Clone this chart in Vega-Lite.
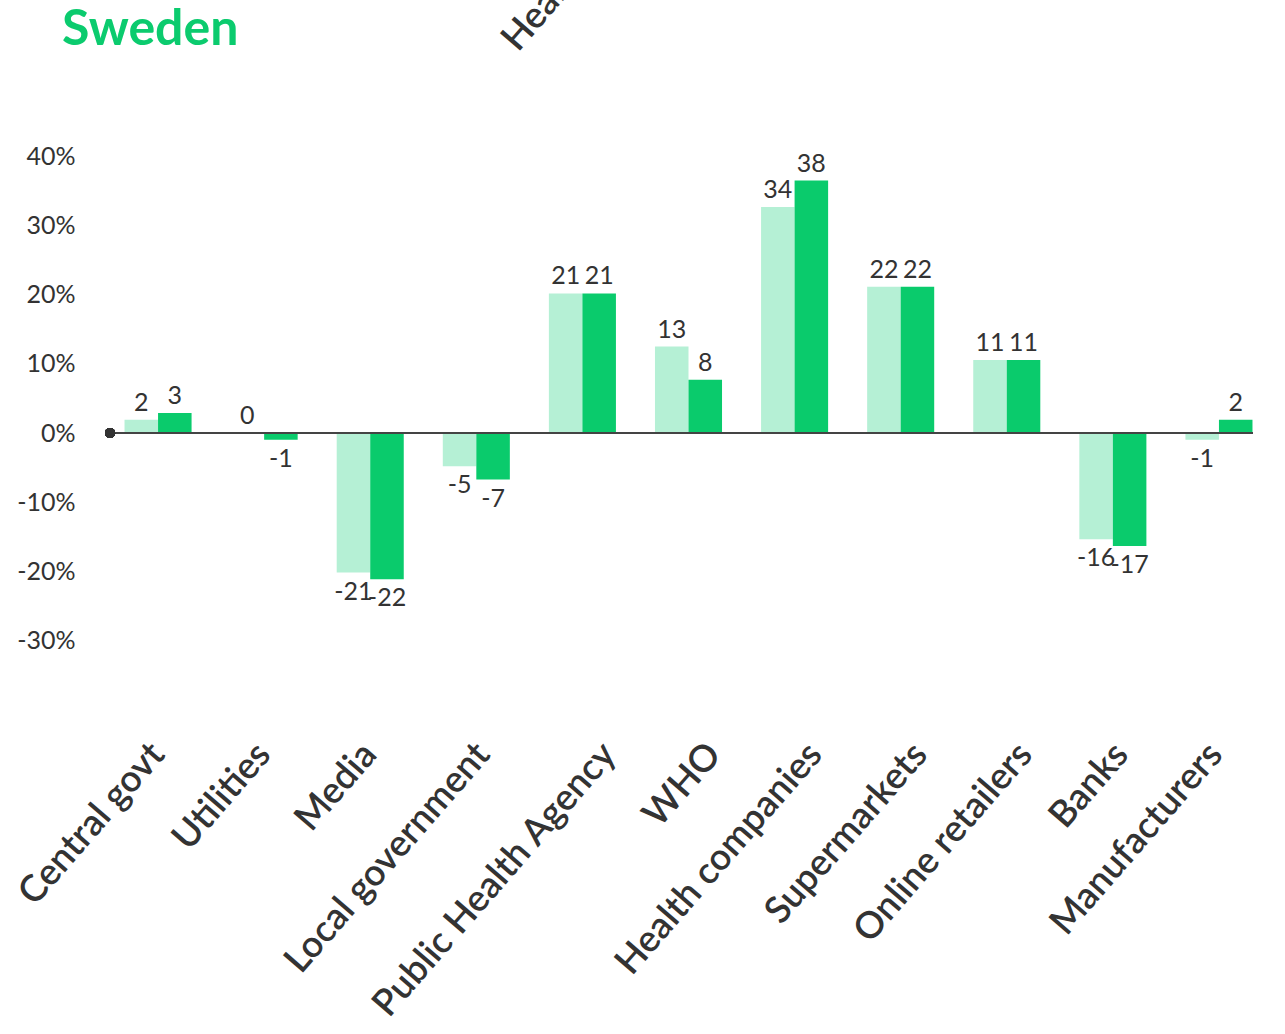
{
  "$schema": "https://vega.github.io/schema/vega-lite/v6.json",
  "autosize": {"type": "none"},
  "width": 1167,
  "height": 598,
  "padding": {"left": 105, "top": 134, "right": 13, "bottom": 302},
  "background": "white",
  "config": {"view": {"stroke": null}, "font": "Lato"},
  "data": {
    "values": [
      {"category": "Central govt", "series": "Earlier", "value": 2},
      {"category": "Central govt", "series": "Latest", "value": 3},
      {"category": "Utilities", "series": "Earlier", "value": 0},
      {"category": "Utilities", "series": "Latest", "value": -1},
      {"category": "Media", "series": "Earlier", "value": -21},
      {"category": "Media", "series": "Latest", "value": -22},
      {"category": "Local government", "series": "Earlier", "value": -5},
      {"category": "Local government", "series": "Latest", "value": -7},
      {"category": "Public Health Agency", "series": "Earlier", "value": 21},
      {"category": "Public Health Agency", "series": "Latest", "value": 21},
      {"category": "WHO", "series": "Earlier", "value": 13},
      {"category": "WHO", "series": "Latest", "value": 8},
      {"category": "Health companies", "series": "Earlier", "value": 34},
      {"category": "Health companies", "series": "Latest", "value": 38},
      {"category": "Supermarkets", "series": "Earlier", "value": 22},
      {"category": "Supermarkets", "series": "Latest", "value": 22},
      {"category": "Online retailers", "series": "Earlier", "value": 11},
      {"category": "Online retailers", "series": "Latest", "value": 11},
      {"category": "Banks", "series": "Earlier", "value": -16},
      {"category": "Banks", "series": "Latest", "value": -17},
      {"category": "Manufacturers", "series": "Earlier", "value": -1},
      {"category": "Manufacturers", "series": "Latest", "value": 2}
    ]
  },
  "encoding": {
    "x": {
      "field": "category",
      "type": "nominal",
      "sort": null,
      "scale": {"paddingInner": 0.368, "paddingOuter": 0.184},
      "axis": {
        "title": null,
        "labelAngle": -49,
        "labelAlign": "right",
        "labelBaseline": "middle",
        "labelFont": "Lato",
        "labelFontSize": 37,
        "labelFontWeight": 600,
        "labelColor": "#333333",
        "labelPadding": 16,
        "labelOffset": {
          "condition": [
            {"test": "datum.value === 'Local government'", "value": 7},
            {"test": "datum.value === 'Public Health Agency'", "value": 27},
            {"test": "datum.value === 'WHO'", "value": 26},
            {"test": "datum.value === 'Health companies'", "value": 21},
            {"test": "datum.value === 'Supermarkets'", "value": 20},
            {"test": "datum.value === 'Online retailers'", "value": 19},
            {"test": "datum.value === 'Banks'", "value": 9},
            {"test": "datum.value === 'Manufacturers'", "value": -3}
          ],
          "value": 0
        },
        "labelOverlap": false,
        "labelLimit": 0,
        "domain": false,
        "ticks": false,
        "tickSize": 0
      }
    },
    "y": {
      "field": "value",
      "type": "quantitative",
      "scale": {"domain": [-45, 45], "nice": false, "zero": false},
      "axis": {
        "title": null,
        "values": [-31.155, -20.77, -10.385, 0, 10.385, 20.77, 31.155, 41.54],
        "labelExpr": "round(datum.value / 1.0385) + '%'",
        "labelFont": "Lato",
        "labelFontSize": 25,
        "labelColor": "#333333",
        "labelPadding": 30,
        "grid": false,
        "domain": false,
        "ticks": false,
        "tickSize": 0
      }
    },
    "xOffset": {"field": "series", "type": "nominal", "scale": {"domain": ["Earlier", "Latest"]}}
  },
  "layer": [
    {
      "mark": {"type": "bar"},
      "encoding": {
        "color": {
          "field": "series",
          "type": "nominal",
          "scale": {"domain": ["Earlier", "Latest"], "range": ["#B5F0D5", "#0ACB6C"]},
          "legend": null
        }
      }
    },
    {
      "transform": [{"filter": "datum.value >= 0"}],
      "mark": {"type": "text", "baseline": "bottom", "dy": -4, "font": "Lato", "fontSize": 25, "color": "#333333"},
      "encoding": {"text": {"field": "value", "type": "nominal"}}
    },
    {
      "transform": [{"filter": "datum.value < 0"}],
      "mark": {"type": "text", "baseline": "top", "dy": 7, "font": "Lato", "fontSize": 25, "color": "#333333"},
      "encoding": {"text": {"field": "value", "type": "nominal"}}
    },
    {
      "mark": {"type": "rule", "color": "#444444", "strokeWidth": 2},
      "encoding": {
        "x": {"datum": "Central govt", "bandPosition": -0.216},
        "x2": {"datum": "Manufacturers", "bandPosition": 1},
        "y": {"datum": 0},
        "xOffset": null
      }
    },
    {
      "mark": {"type": "point", "shape": "circle", "filled": true, "color": "#333333", "size": 100, "opacity": 1},
      "encoding": {
        "x": {"datum": "Central govt", "bandPosition": -0.216},
        "y": {"datum": 0},
        "xOffset": null
      }
    },
    {
      "data": {"values": [{"category": "Local government", "series": "Latest", "value": 0, "note": "Health companies"}]},
      "mark": {"type": "text", "clip": false, "invalid": "show", "angle": 311, "align": "left", "baseline": "alphabetic", "font": "Lato", "fontSize": 37, "fontWeight": 600, "color": "#333333"},
      "encoding": {
        "x": {"datum": "Local government", "bandPosition": 1.12},
        "y": {"datum": 57.2},
        "text": {"field": "note", "type": "nominal"},
        "xOffset": null
      }
    },
    {
      "data": {"values": [{"category": "Central govt", "series": "Latest", "value": 0, "heading": "Sweden"}]},
      "mark": {"type": "text", "clip": false, "invalid": "show", "align": "left", "baseline": "alphabetic", "font": "Lato", "fontSize": 50, "fontWeight": "bold", "color": "#0BCB6E"},
      "encoding": {
        "x": {"datum": "Central govt", "bandPosition": -0.932},
        "y": {"datum": 58.4},
        "text": {"field": "heading", "type": "nominal"},
        "xOffset": null
      }
    }
  ]
}
